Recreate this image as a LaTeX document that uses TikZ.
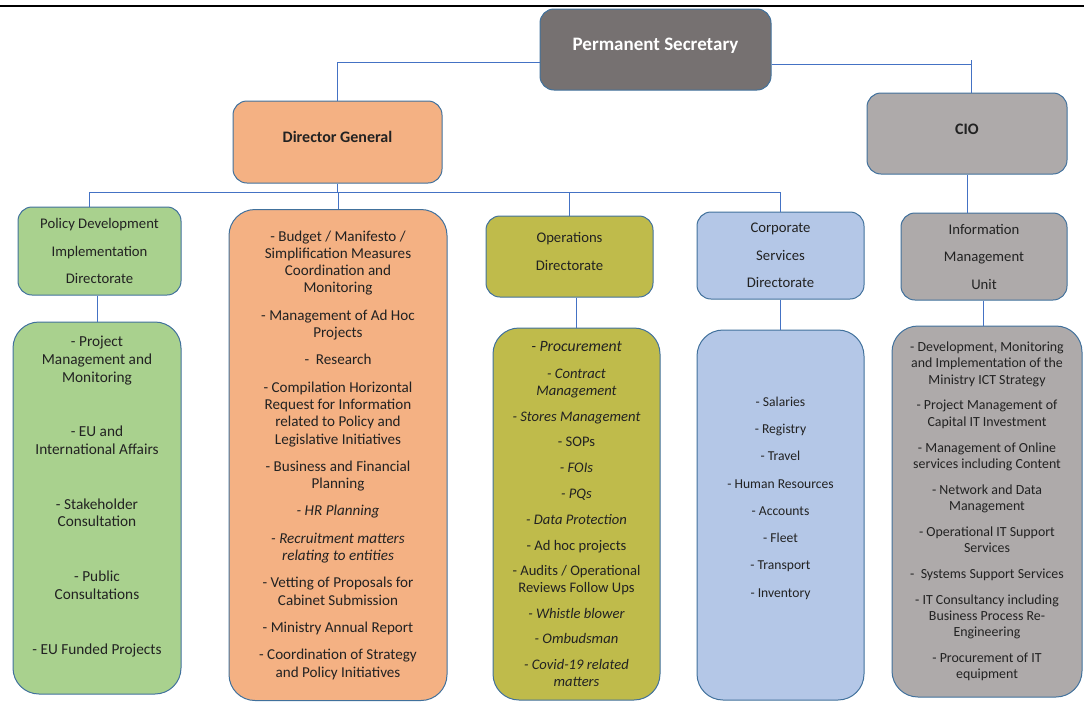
\documentclass[tikz,border=0pt]{standalone}
\usepackage{fontspec}
\setmainfont{Carlito}
\usepackage{xcolor}
\definecolor{psgray}{HTML}{767171}
\definecolor{dgorange}{HTML}{F4B183}
\definecolor{ciogray}{HTML}{AEAAAA}
\definecolor{pdgreen}{HTML}{A9D18E}
\definecolor{opolive}{HTML}{BFBB4B}
\definecolor{csblue}{HTML}{B4C7E7}
\definecolor{boxline}{HTML}{41719C}
\definecolor{linkblue}{HTML}{4472C4}
\definecolor{txt}{HTML}{222222}

\begin{document}
\begin{tikzpicture}[x=1pt, y=-1pt,
    box/.style={draw=boxline, line width=1pt, rounded corners=14pt, align=center, inner sep=2pt, text=txt},
    chief/.style={box, font=\bfseries\fontsize{16}{19}\selectfont, text height=8pt, text depth=7pt},
    head/.style={box, font=\fontsize{14.7}{27.5}\selectfont},
    lst/.style={box, rounded corners=26pt},
    conn/.style={draw=linkblue, line width=0.9pt}]
  \useasboundingbox (0,0) rectangle (1084,702);
  \draw[line width=2.5pt] (0,6) -- (1084,6);

  % top of the tree
  \node[chief, fill=psgray, text=white, font=\bfseries\fontsize{19}{22}\selectfont,
        minimum width=231, minimum height=81] (ps) at (655.5,49.5) {Permanent Secretary};
  \node[chief, fill=dgorange, minimum width=209, minimum height=82] (dg) at (337.5,142) {Director General};
  \node[chief, fill=ciogray, minimum width=200, minimum height=81] (cio) at (967,133.5) {CIO};

  % directorates
  \node[head, fill=pdgreen, minimum width=163, minimum height=88] (pdd) at (99.5,251)
    {Policy Development\\Implementation\\Directorate};
  \node[head, fill=opolive, minimum width=167, minimum height=81] (opd) at (569.5,256.5)
    {Operations\\Directorate\\[-17.5pt]\mbox{}};
  \node[head, fill=csblue, minimum width=167, minimum height=87] (csd) at (780.5,255.5)
    {Corporate\\Services\\Directorate};
  \node[head, fill=ciogray, minimum width=166, minimum height=87] (imu) at (984,256.5)
    {Information\\Management\\Unit};

  % duties
  \node[lst, fill=pdgreen, minimum width=168, minimum height=372, font=\fontsize{15.3}{17.7}\selectfont] (pdl) at (97,508)
    {- Project\\Management and\\Monitoring\\[37pt]
     - EU and\\International Affairs\\[37pt]
     - Stakeholder\\Consultation\\[37pt]
     - Public\\Consultations\\[37pt]
     - EU Funded Projects\\[8pt]\mbox{}};
  \node[lst, fill=dgorange, minimum width=218, minimum height=491, font=\fontsize{15.1}{17.3}\selectfont] (dgl) at (338,455)
    {- Budget / Manifesto /\\Simplification Measures\\Coordination and\\Monitoring\\[10pt]
     - Management of Ad Hoc\\Projects\\[10pt]
     -\ \ Research\\[10pt]
     - Compilation Horizontal\\Request for Information\\related to Policy and\\Legislative Initiatives\\[10pt]
     - Business and Financial\\Planning\\[10pt]
     \textit{- HR Planning}\\[10pt]
     \textit{- Recruitment matters}\\\textit{relating to entities}\\[10pt]
     - Vetting of Proposals for\\Cabinet Submission\\[10pt]
     - Ministry Annual Report\\[10pt]
     - Coordination of Strategy\\and Policy Initiatives};
  \node[lst, fill=opolive, minimum width=167, minimum height=372, font=\fontsize{14.6}{16.5}\selectfont] (opl) at (576.5,514)
    {{\fontsize{15.7}{16.5}\selectfont\itshape - Procurement}\\[10.5pt]
     \textit{- Contract}\\\textit{Management}\\[9.3pt]
     \textit{- Stores Management}\\[9.3pt]
     - SOPs\\[9.3pt]
     \textit{- FOIs}\\[9.3pt]
     \textit{- PQs}\\[9.3pt]
     \textit{- Data Protection}\\[9.3pt]
     - Ad hoc projects\\[9.3pt]
     - Audits / Operational\\Reviews Follow Ups\\[9.3pt]
     \textit{- Whistle blower}\\[9.3pt]
     \textit{- Ombudsman}\\[9.3pt]
     \textit{- Covid-19 related}\\\textit{matters}};
  \node[lst, fill=csblue, minimum width=167, minimum height=370, font=\fontsize{13.6}{27.3}\selectfont] (csl) at (780.5,515)
    {- Salaries\\- Registry\\- Travel\\- Human Resources\\- Accounts\\- Fleet\\- Transport\\- Inventory\\[8.7pt]\mbox{}};
  \node[lst, fill=ciogray, minimum width=190, minimum height=371, font=\fontsize{13.9}{16.3}\selectfont] (iml) at (987,511.5)
    {- Development, Monitoring\\and Implementation of the\\Ministry ICT Strategy\\[9.5pt]
     - Project Management of\\Capital IT Investment\\[9.5pt]
     - Management of Online\\services including Content\\[9.5pt]
     - Network and Data\\Management\\[9.5pt]
     - Operational IT Support\\Services\\[9.5pt]
     -\ \ Systems Support Services\\[9.5pt]
     - IT Consultancy including\\Business Process Re-\\Engineering\\[9.5pt]
     - Procurement of IT\\equipment};

  % connectors
  \coordinate (tl) at (335,62);
  \coordinate (tr) at (971,64);
  \coordinate (bus) at (0,192);
  \draw[conn] (ps.west |- tl) -| (dg.north);
  \draw[conn] (ps.east |- tr) -- (tr);
  \draw[conn] ([yshift=4]tr) -- (tr |- cio.north);
  \draw[conn] (dg.south) -- (dg.south |- bus);
  \draw[conn] ([xshift=-10]pdd.north |- bus) -- (csd.north |- bus);
  \draw[conn] ([xshift=-10]pdd.north |- bus) -- ([xshift=-10]pdd.north);
  \foreach \n in {dgl,opd,csd} \draw[conn] (\n.north |- bus) -- (\n.north);
  \foreach \h/\l in {pdd/pdl,opd/opl,csd/csl} \draw[conn] (\l.north |- \h.south) -- (\l.north);
  \draw[conn] (cio.south) -- (cio.south |- imu.north);
  \draw[conn] ([xshift=-4]iml.north |- imu.south) -- ([xshift=-4]iml.north);
\end{tikzpicture}
\end{document}
